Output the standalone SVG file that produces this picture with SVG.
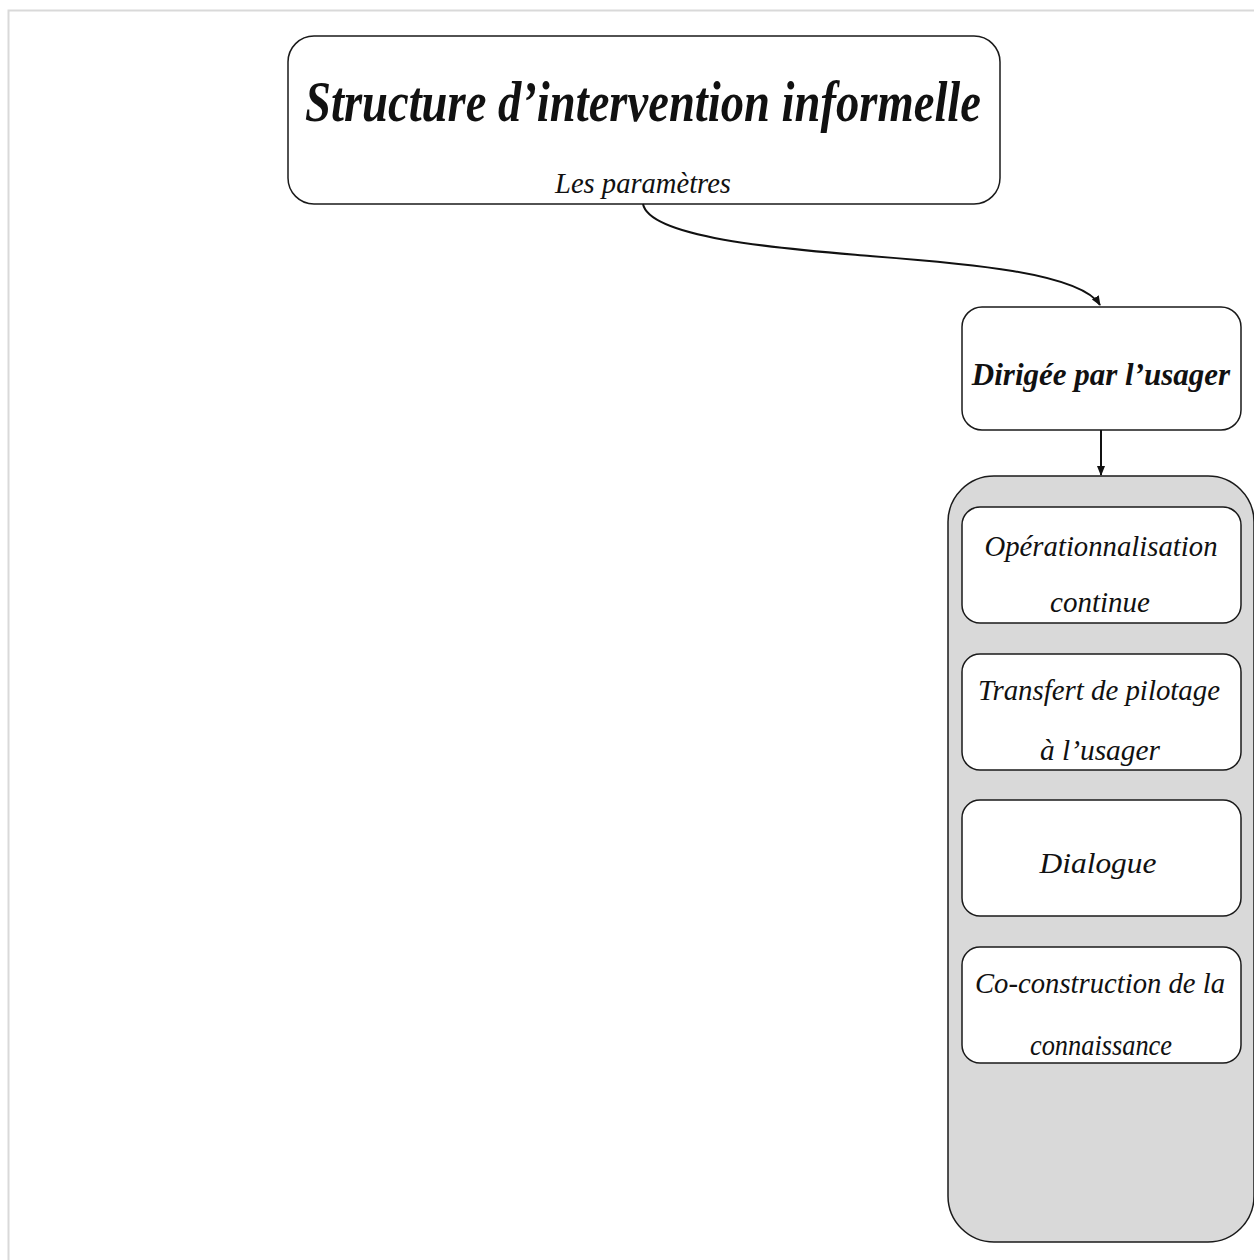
<svg xmlns="http://www.w3.org/2000/svg" width="1254" height="1260" viewBox="0 0 1254 1260">
  <style>
    .box { fill: #ffffff; stroke: #1a1a1a; stroke-width: 1.5; }
    .group { fill: #d9d9d9; stroke: #1a1a1a; stroke-width: 1.5; }
    .hand { font-family: 'Liberation Serif', 'DejaVu Serif', serif; font-style: italic; fill: #111111; text-anchor: middle; }
    .bold { font-weight: bold; }
    .link { fill: none; stroke: #111111; stroke-width: 2; }
  </style>
  <defs>
    <marker id="arrow" viewBox="0 0 10 10" refX="9" refY="5" markerWidth="5" markerHeight="5" orient="auto">
      <path d="M0,1 L10,5 L0,9 Z" fill="#111111"/>
    </marker>
  </defs>

  <rect width="1254" height="1260" fill="#ffffff"/>
  <!-- page frame -->
  <rect x="8.5" y="10.5" width="1270" height="1270" fill="none" stroke="#d9d9d9" stroke-width="2"/>

  <g id="title">
    <rect class="box" x="288" y="36" width="712" height="168" rx="26"/>
    <text class="hand bold" x="643" y="121" font-size="56" textLength="676" lengthAdjust="spacingAndGlyphs">Structure d’intervention informelle</text>
    <text class="hand" x="643" y="193" font-size="30" textLength="176" lengthAdjust="spacingAndGlyphs">Les paramètres</text>
  </g>

  <g id="dirigee">
    <rect class="box" x="962" y="307" width="279" height="123" rx="20"/>
    <text class="hand bold" x="1101" y="385" font-size="31">Dirigée par l’usager</text>
  </g>

  <g id="parametres">
    <rect class="group" x="948" y="476" width="306" height="766" rx="46"/>
  </g>

  <g id="operationnalisation">
    <rect class="box" x="962" y="507" width="279" height="116" rx="18"/>
    <text class="hand" x="1101" y="556" font-size="30" textLength="233" lengthAdjust="spacingAndGlyphs">Opérationnalisation</text>
    <text class="hand" x="1100" y="612" font-size="30" textLength="100" lengthAdjust="spacingAndGlyphs">continue</text>
  </g>

  <g id="transfert">
    <rect class="box" x="962" y="654" width="279" height="116" rx="18"/>
    <text class="hand" x="1099" y="700" font-size="30" textLength="242" lengthAdjust="spacingAndGlyphs">Transfert de pilotage</text>
    <text class="hand" x="1100" y="760" font-size="30" textLength="120" lengthAdjust="spacingAndGlyphs">à l’usager</text>
  </g>

  <g id="dialogue">
    <rect class="box" x="962" y="800" width="279" height="116" rx="18"/>
    <text class="hand" x="1098" y="873" font-size="30" textLength="117" lengthAdjust="spacingAndGlyphs">Dialogue</text>
  </g>

  <g id="coconstruction">
    <rect class="box" x="962" y="947" width="279" height="116" rx="18"/>
    <text class="hand" x="1100" y="993" font-size="30" textLength="250" lengthAdjust="spacingAndGlyphs">Co-construction de la</text>
    <text class="hand" x="1101" y="1055" font-size="30" textLength="142" lengthAdjust="spacingAndGlyphs">connaissance</text>
  </g>

  <g id="connectors">
    <path class="link" d="M643,204 C650,240 800,250 870,256 C960,263 1080,272 1100,305" marker-end="url(#arrow)"/>
    <path class="link" d="M1101,430 L1101,475" marker-end="url(#arrow)"/>
  </g>
</svg>
